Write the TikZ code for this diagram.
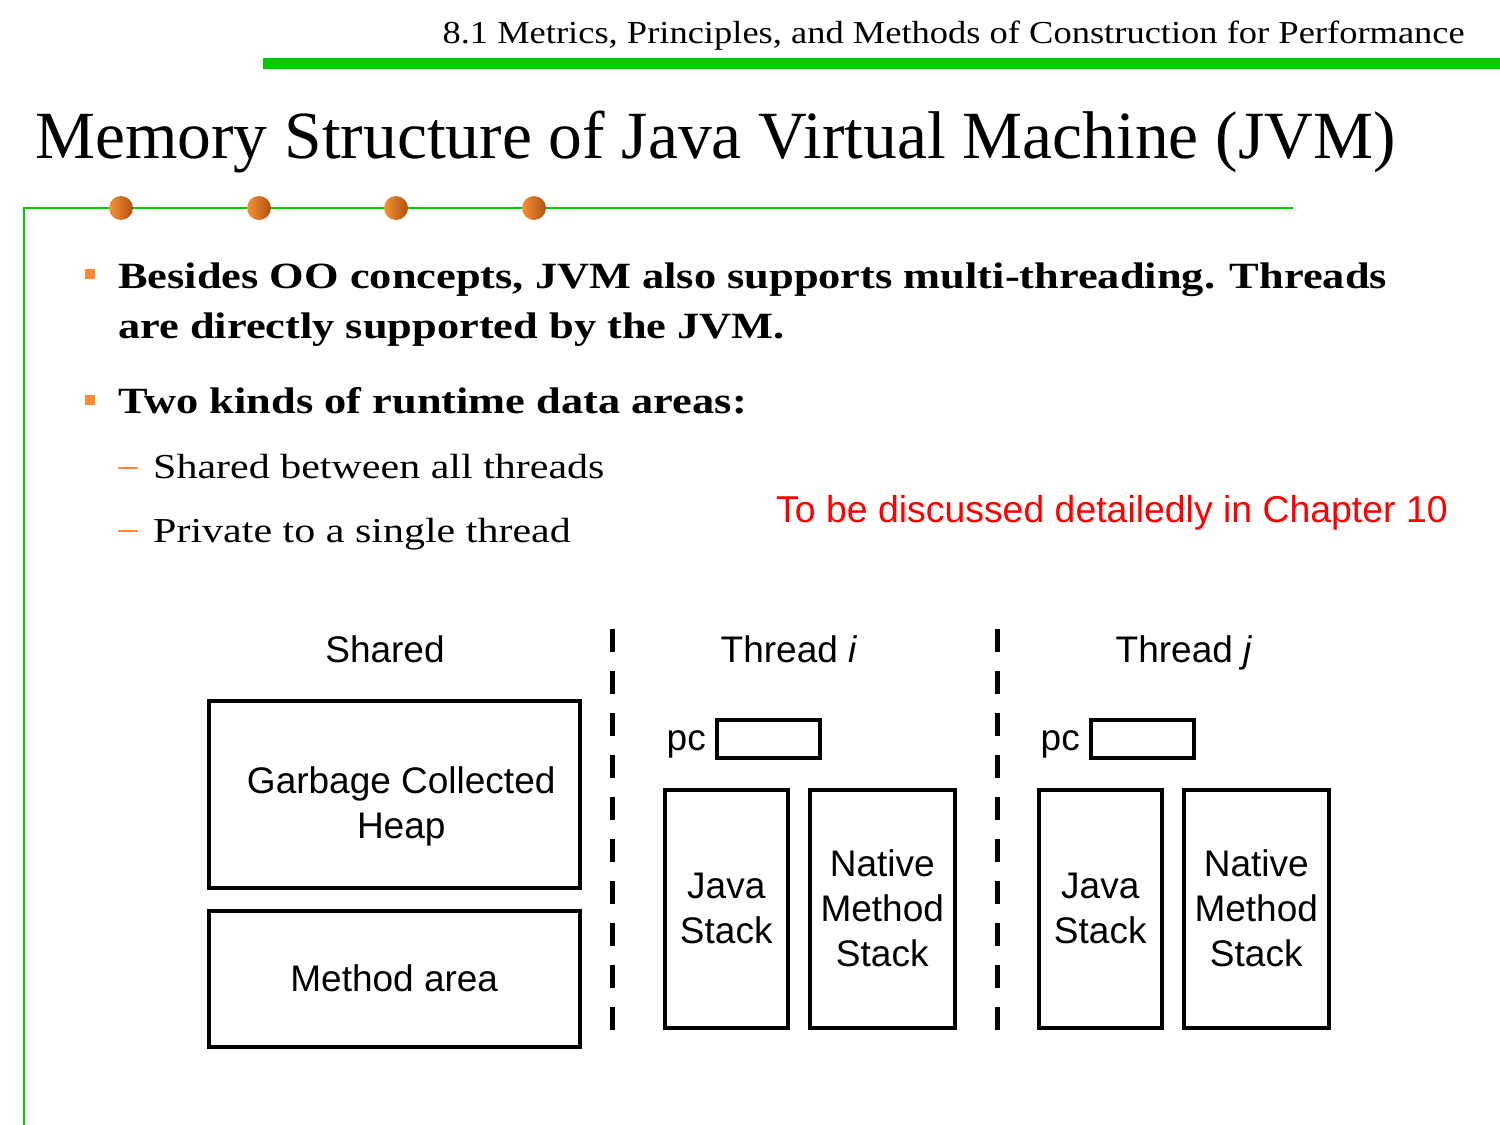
\documentclass[tikz,border=0pt]{standalone}
\usepackage{fontspec}
\setmainfont{Liberation Serif}
\newfontfamily\headfont[FakeStretch=1.14]{Liberation Serif}
\newfontfamily\bodyfont[FakeStretch=1.2]{Liberation Serif}
\newfontfamily\diagfont{Liberation Sans}
\usetikzlibrary{positioning}
\definecolor{SlGreen}{HTML}{00CC00}
\definecolor{SlOrange}{HTML}{FF8833}
\definecolor{SlDotLight}{HTML}{F7923A}
\definecolor{SlDotDark}{HTML}{B0500F}
\definecolor{SlRed}{HTML}{FF0000}

\begin{document}
\begin{tikzpicture}[x=1pt,y=-1pt]
  \tikzset{
    slhead/.style={font=\headfont\fontsize{32}{36}\selectfont,anchor=base east,inner sep=0pt},
    sltitle/.style={font=\fontsize{67.5}{72}\selectfont,anchor=base west,inner sep=0pt},
    slbody/.style={font=\bodyfont\bfseries\fontsize{37}{50}\selectfont,anchor=base west,
      inner sep=0pt},
    slsub/.style={font=\bodyfont\fontsize{35}{40}\selectfont,anchor=base west,inner sep=0pt},
    slbullet/.style={fill=SlOrange,minimum size=10pt,inner sep=0pt},
    sldash/.style={fill=SlOrange,minimum width=20pt,minimum height=2.5pt,inner sep=0pt},
    sldot/.style={circle,minimum size=24pt,inner sep=0pt,
      left color=SlDotLight,right color=SlDotDark},
    slnote/.style={font=\diagfont\fontsize{37.4}{40}\selectfont,text=SlRed,
      anchor=base west,inner sep=0pt},
    memhead/.style={font=\diagfont\fontsize{37}{40}\selectfont,anchor=base,inner sep=0pt},
    membox/.style={draw,line width=3.5pt,anchor=north west,inner sep=0pt,align=center,
      font=\diagfont\fontsize{37}{45}\selectfont},
    memtext/.style={inner sep=0pt,align=center,font=\diagfont\fontsize{37}{45}\selectfont},
    memlabel/.style={font=\diagfont\fontsize{37}{40}\selectfont,anchor=base east,inner sep=0pt},
    memsplit/.style={line width=5pt,dash pattern=on 23pt off 19pt}
  }
  \useasboundingbox (0,0) rectangle (1500,1125);

  % ------------------------------------------------------------------
  % Slide frame: header, title, rules
  % ------------------------------------------------------------------
  \node[slhead] (header) at (1465,43)
    {8.1 Metrics, Principles, and Methods of Construction for Performance};
  \fill[SlGreen] (263,58) rectangle (1500,69);
  \node[sltitle] (title) at (35,158) {Memory Structure of Java Virtual Machine (JVM)};
  \draw[SlGreen,line width=2.5pt] (24,1125) -- (24,208) -- (1293,208);
  \foreach \x [count=\i] in {121,259,396,534}
    \node[sldot] (dot\i) at (\x,208) {};

  % ------------------------------------------------------------------
  % Bullets
  % ------------------------------------------------------------------
  \node[slbullet] (bul1) at (90,274) {};
  \node[slbody] (text1a) at (118,288)
    {Besides OO concepts, JVM also supports multi-threading. Threads};
  \node[slbody] (text1b) at (118,338) {are directly supported by the JVM.};
  \node[slbullet] (bul2) at (90,400) {};
  \node[slbody] (text2) at (118,413) {Two kinds of runtime data areas:};
  \node[sldash] (dash1) at (128,468) {};
  \node[slsub] (sub1) at (153,478) {Shared between all threads};
  \node[sldash] (dash2) at (128,531) {};
  \node[slsub] (sub2) at (153,542) {Private to a single thread};
  \node[slnote] (note) at (776,522) {To be discussed detailedly in Chapter 10};

  % ------------------------------------------------------------------
  % Shared areas
  % ------------------------------------------------------------------
  \node[memhead] (sharedhead) at (385,662) {Shared};
  \node[membox,minimum width=371pt,minimum height=187pt] (heap) at (207,699) {};
  \node[memtext] (heaptext) at ([xshift=7pt,yshift=-12pt]heap.center)
    {Garbage Collected\\Heap};
  \node[membox,minimum width=371pt,minimum height=136pt] (methodarea) at (207,909)
    {Method area};
  \draw[memsplit] (612,629) -- (612,1048);

  % ------------------------------------------------------------------
  % Thread i
  % ------------------------------------------------------------------
  \node[memhead] (headi) at (789,662) {Thread \textit{i}};
  \node[membox,minimum width=103pt,minimum height=38pt] (pci) at (715,718) {};
  \node[memlabel] (pclabi) at ([xshift=-9pt,yshift=9pt]pci.south west) {pc};
  \node[membox,minimum width=123pt,minimum height=238pt] (javai) at (663,788)
    {Java\\Stack};
  \node[membox,minimum width=145pt,minimum height=238pt] (nativei) at (808,788)
    {Native\\Method\\Stack};
  \draw[memsplit] (997,629) -- (997,1048);

  % ------------------------------------------------------------------
  % Thread j
  % ------------------------------------------------------------------
  \node[memhead] (headj) at (1184,662) {Thread \textit{j}};
  \node[membox,minimum width=103pt,minimum height=38pt] (pcj) at (1089,718) {};
  \node[memlabel] (pclabj) at ([xshift=-9pt,yshift=9pt]pcj.south west) {pc};
  \node[membox,minimum width=123pt,minimum height=238pt] (javaj) at (1037,788)
    {Java\\Stack};
  \node[membox,minimum width=145pt,minimum height=238pt] (nativej) at (1182,788)
    {Native\\Method\\Stack};
\end{tikzpicture}
\end{document}
